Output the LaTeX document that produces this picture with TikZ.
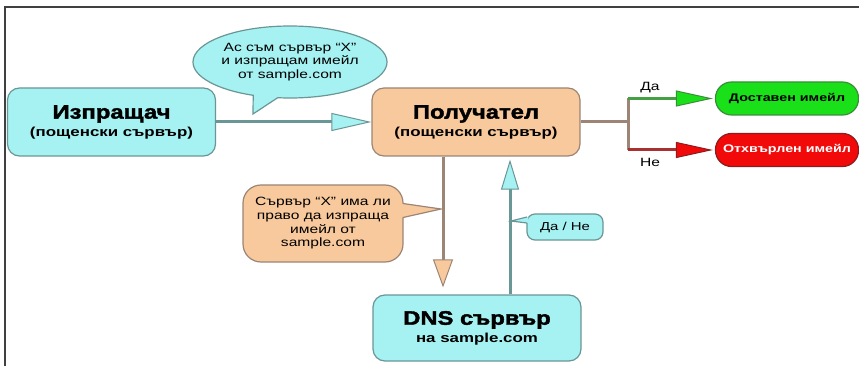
\documentclass[tikz,border=0pt]{standalone}
\usepackage{fontspec}
\setmainfont{Liberation Sans}[FakeStretch=1.3]
\newfontfamily\heavyfont{Liberation Sans}[FakeStretch=1.22, BoldFeatures={FakeBold=2}]
\usetikzlibrary{calc,arrows.meta,shapes.callouts}
\definecolor{srvCyan}{HTML}{A6F1F2}
\definecolor{srvCyanLn}{HTML}{6A9696}
\definecolor{srvPeach}{HTML}{F8C99C}
\definecolor{srvPeachLn}{HTML}{9C8574}
\definecolor{okGreen}{HTML}{1AE01A}
\definecolor{okGreenLn}{HTML}{3A8E3A}
\definecolor{noRed}{HTML}{F20A0A}
\definecolor{noRedLn}{HTML}{8E1C1C}
\definecolor{lnokGreen}{HTML}{45A045}
\definecolor{lnnoRed}{HTML}{A83030}
\newcommand{\srvHead}{\heavyfont\fontsize{19.5}{21}\selectfont\bfseries}
\newcommand{\srvSub}{\fontsize{13}{15}\selectfont\bfseries}

\begin{document}
\begin{tikzpicture}[x=1pt,y=-1pt,
      srv/.style={rounded corners=12pt, draw=#1Ln, line width=1.2pt, fill=#1,
                  minimum width=208pt, minimum height=68pt, inner sep=0pt, align=center},
      res/.style={rounded corners=16pt, draw=#1Ln, line width=1.2pt, fill=#1,
                  minimum width=143pt, minimum height=33pt, inner sep=0pt,
                  font=\fontsize{11}{13}\selectfont\bfseries},
      note/.style 2 args={rounded corners=#2, draw=#1Ln, line width=1.2pt, fill=#1,
                   inner sep=0pt, align=center, font=\fontsize{12}{13.7}\selectfont},
      cyanarr/.style={draw=srvCyanLn, line width=3pt,
                      -{Triangle[length=#1,width=18pt,line width=1pt,fill=srvCyan]}},
      peacharr/.style={draw=srvPeachLn, line width=3pt,
                       -{Triangle[length=28pt,width=20pt,line width=1pt,fill=srvPeach]}},
      branch/.style={draw=srvPeachLn, line width=3pt},
      resarr/.style={draw=ln#1, line width=3pt,
                     -{Triangle[length=37pt,width=16pt,line width=1pt,fill=#1,color=#1Ln]}},
      lbl/.style={font=\fontsize{12}{14}\selectfont}]
    \useasboundingbox (0,0) rectangle (859,366);
    \draw[line width=1.5pt, black!75] (5,366) -- (5,7) -- (859,7);

    \node[srv=srvCyan]  (snd) at (111.5,122) {{\srvHead Изпращач}\\[3pt]{\srvSub (пощенски сървър)}};
    \node[srv=srvPeach] (rcv) at (476,122)   {{\srvHead Получател}\\[3pt]{\srvSub (пощенски сървър)}};
    \node[srv=srvCyan, minimum height=66pt] (dns) at (477,328) {{\srvHead DNS сървър}\\[3pt]{\srvSub на sample.com}};
    \node[res=okGreen] (ok) at (787,98.5) {Доставен имейл};
    \node[res=noRed, text=white] (no) at (787,150) {Отхвърлен имейл};

    \node[ellipse callout, draw=srvCyanLn, line width=1.2pt, fill=srvCyan,
          minimum width=192pt, minimum height=72pt, inner sep=0pt, align=center,
          font=\fontsize{12}{13.5}\selectfont, callout absolute pointer={(253,114)}]
          (claim) at (290,62) {Ас съм сървър “X”\\и изпращам имейл\\от sample.com};

    \draw[cyanarr=40pt] (snd) -- (rcv);

    \coordinate (br)  at (628,122);
    \coordinate (brY) at (628,98.5);
    \coordinate (brN) at (628,150);
    \draw[branch] (rcv) -- (br);
    \draw[branch] (brY) -- (brN);
    \draw[resarr=okGreen, shorten >=2pt] (brY) -- (ok);
    \draw[resarr=noRed, shorten >=2pt] (brN) -- (no);
    \node[lbl] (yesLbl) at (650,88)  {Да};
    \node[lbl] (noLbl)  at (650,162) {Не};

    \coordinate (askX) at (443,0);
    \coordinate (ansX) at (510,0);
    \draw[peacharr, shorten >=7pt] (rcv.south -| askX) -- (dns.north -| askX);
    \draw[cyanarr=30pt, shorten >=3pt] (dns.north -| ansX) -- (rcv.south -| ansX);

    \node[note={srvPeach}{18pt}, minimum width=160pt, minimum height=77pt] (ask) at (323,223.5)
          {Сървър “X” има ли\\право да изпраща\\имейл от\\sample.com};
    \coordinate (askTip) at (441,209);
    \fill[srvPeach] ($(ask.east)+(-2,-20)$) -- (askTip) -- ($(ask.east)+(-2,-6)$) -- cycle;
    \draw[srvPeachLn, line width=1.2pt] ($(ask.east)+(-0.6,-20)$) -- (askTip) -- ($(ask.east)+(-0.6,-6)$);

    \node[note={srvCyan}{8pt}, minimum width=76pt, minimum height=26pt, font=\fontsize{11.5}{13}\selectfont] (yn) at (565,227) {Да / Не};
    \coordinate (ynTip) at (511,221);
    \fill[srvCyan] ($(yn.west)+(2,-10)$) -- (ynTip) -- ($(yn.west)+(2,-4)$) -- cycle;
    \draw[srvCyanLn, line width=1.2pt] ($(yn.west)+(0.6,-10)$) -- (ynTip) -- ($(yn.west)+(0.6,-4)$);
  \end{tikzpicture}
\end{document}
